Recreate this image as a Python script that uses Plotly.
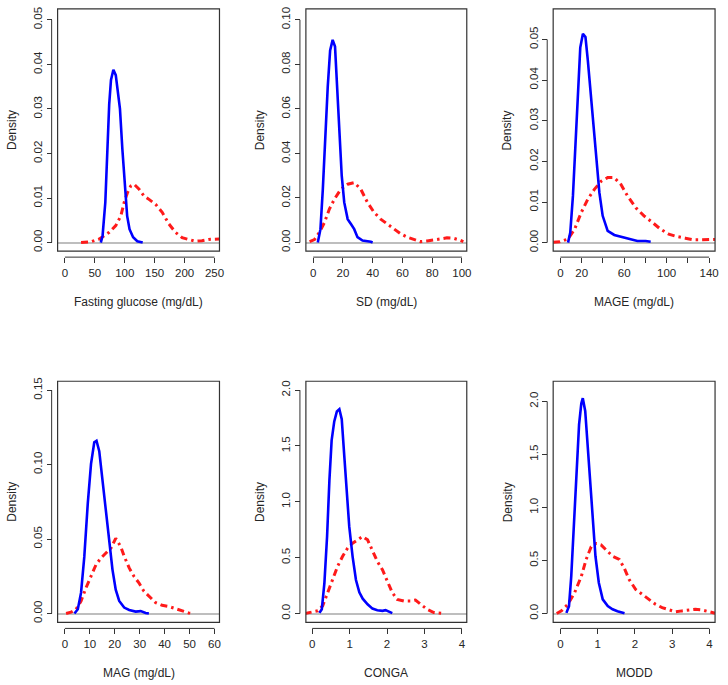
import plotly.graph_objects as go

W, H = 728, 685

# ---------------- data ----------------
# Panel 1: Fasting glucose
fg_blue_x = [60, 63, 67.5, 70, 74, 77, 81, 85, 88, 92, 96, 100.5, 104, 108, 114, 121, 130]
fg_blue_y = [0, 0.0016, 0.009, 0.018, 0.031, 0.0365, 0.0388, 0.0376, 0.034, 0.030, 0.021, 0.012, 0.006, 0.003, 0.0012, 0.0003, 0]
fg_red_x = [27, 44, 57.5, 74, 85, 93.5, 99, 104.5, 110, 115.6, 124, 132, 140.5, 151.5, 162.6, 173.7, 184.7, 195.8, 207, 218, 229, 240, 258]
fg_red_y = [0, 0.0002, 0.0008, 0.0023, 0.0038, 0.006, 0.009, 0.0112, 0.0127, 0.0131, 0.012, 0.0105, 0.0097, 0.0086, 0.0068, 0.0042, 0.0023, 0.0011, 0.0007, 0.0003, 0.0004, 0.0007, 0.0008]

# Panel 2: SD
sd_blue_x = [3.1, 4.9, 6.5, 8, 9.8, 11.4, 13.1, 14.7, 16, 17.6, 19.2, 20.9, 23.2, 25.4, 27.6, 29.8, 33.2, 38.8, 40]
sd_blue_y = [0, 0.006, 0.024, 0.048, 0.07, 0.0863, 0.091, 0.088, 0.07, 0.048, 0.030, 0.018, 0.0105, 0.0083, 0.006, 0.0024, 0.0009, 0.0003, 0]
sd_red_x = [-2.4, 0.9, 4.2, 7.6, 10.9, 14.3, 18.7, 23.2, 27.6, 32, 36.5, 41, 45.4, 49.9, 54.3, 58.8, 63.3, 67.7, 72.2, 76.6, 81, 85.5, 90, 94.4, 98.9, 101]
sd_red_y = [0.0004, 0.0013, 0.0046, 0.009, 0.015, 0.0195, 0.024, 0.0262, 0.0269, 0.024, 0.018, 0.0135, 0.0105, 0.0083, 0.006, 0.0039, 0.0024, 0.0013, 0.0004, 0.0007, 0.0013, 0.0016, 0.0021, 0.0019, 0.001, 0.0004]

# Panel 3: MAGE
mage_blue_x = [7.2, 9.3, 11.8, 14.3, 16.5, 18.7, 21.2, 23.6, 25.8, 28, 30.5, 33.6, 36.7, 39.8, 44.5, 50.7, 58.5, 64.7, 72.5, 80.3, 85]
mage_blue_y = [0, 0.0025, 0.0115, 0.026, 0.0383, 0.048, 0.0514, 0.0506, 0.0449, 0.0384, 0.030, 0.0204, 0.0123, 0.0066, 0.0029, 0.0019, 0.0013, 0.0009, 0.0004, 0.0004, 0.0002]
mage_red_x = [-6.8, -0.6, 7.2, 13.4, 19.6, 25.8, 32, 38.3, 44.5, 50.7, 57, 63.2, 71, 78.7, 86.5, 94.3, 102, 109.8, 117.6, 125.4, 133.2, 141, 145.6]
mage_red_y = [0.0001, 0.0002, 0.0009, 0.0033, 0.0074, 0.0107, 0.0131, 0.0151, 0.016, 0.016, 0.0143, 0.0115, 0.0086, 0.0066, 0.005, 0.0033, 0.0021, 0.0015, 0.0011, 0.0007, 0.0007, 0.0007, 0.0008]

# Panel 4: MAG
mag_blue_x = [3.85, 5.2, 6.5, 7.8, 9.2, 10.5, 11.8, 12.7, 13.8, 15.1, 16.5, 17.8, 19.1, 20.4, 21.8, 23.8, 25.8, 28.4, 30.4, 32.4, 33.7]
mag_blue_y = [0, 0.0029, 0.014, 0.038, 0.074, 0.1005, 0.115, 0.116, 0.109, 0.0894, 0.065, 0.045, 0.0295, 0.016, 0.0084, 0.004, 0.0024, 0.0013, 0.0016, 0.0004, 0]
mag_red_x = [0.5, 2.5, 4.5, 6.5, 8.5, 10.5, 12.5, 14.5, 16.5, 18.5, 20.4, 22.4, 23.8, 25.8, 27.7, 29.7, 31.7, 33.7, 36.4, 39, 41.7, 44.3, 47, 49.6, 51.6]
mag_red_y = [0, 0.0009, 0.0029, 0.0084, 0.0173, 0.025, 0.0328, 0.0373, 0.0406, 0.044, 0.0505, 0.045, 0.0384, 0.0306, 0.025, 0.0206, 0.015, 0.0118, 0.0073, 0.0055, 0.0047, 0.0033, 0.0018, 0.0004, 0]

# Panel 5: CONGA
conga_blue_x = [0.195, 0.257, 0.327, 0.398, 0.46, 0.52, 0.59, 0.66, 0.726, 0.79, 0.86, 0.93, 0.99, 1.08, 1.17, 1.26, 1.35, 1.48, 1.61, 1.74, 1.88, 1.96, 2.05, 2.14]
conga_blue_y = [0.006, 0.038, 0.275, 0.69, 1.19, 1.55, 1.72, 1.81, 1.83, 1.74, 1.40, 1.04, 0.78, 0.51, 0.30, 0.19, 0.133, 0.083, 0.044, 0.03, 0.024, 0.03, 0.015, 0.003]
conga_red_x = [-0.2, -0.03, 0.15, 0.28, 0.416, 0.55, 0.68, 0.81, 0.947, 1.08, 1.21, 1.345, 1.48, 1.61, 1.74, 1.88, 2.01, 2.14, 2.27, 2.45, 2.63, 2.76, 2.9, 3.07, 3.25, 3.51]
conga_red_y = [0, 0.009, 0.024, 0.068, 0.186, 0.305, 0.423, 0.51, 0.586, 0.63, 0.66, 0.69, 0.66, 0.57, 0.467, 0.39, 0.29, 0.186, 0.127, 0.112, 0.112, 0.121, 0.083, 0.038, 0.009, 0]

# Panel 6: MODD
modd_blue_x = [0.16, 0.23, 0.29, 0.355, 0.43, 0.5, 0.56, 0.6, 0.665, 0.736, 0.81, 0.87, 0.94, 1.03, 1.135, 1.27, 1.4, 1.53, 1.67, 1.72]
modd_blue_y = [0.006, 0.07, 0.35, 0.79, 1.35, 1.78, 1.98, 2.03, 1.91, 1.56, 1.19, 0.85, 0.54, 0.29, 0.134, 0.07, 0.04, 0.022, 0.009, 0.003]
modd_red_x = [-0.1, 0.027, 0.2, 0.38, 0.56, 0.69, 0.825, 0.96, 1.09, 1.22, 1.4, 1.58, 1.71, 1.845, 2.02, 2.2, 2.38, 2.55, 2.73, 2.91, 3.09, 3.26, 3.44, 3.62, 3.8, 3.97, 4.15]
modd_red_y = [0, 0.025, 0.087, 0.196, 0.35, 0.51, 0.63, 0.66, 0.647, 0.6, 0.54, 0.51, 0.43, 0.32, 0.227, 0.18, 0.134, 0.087, 0.056, 0.034, 0.016, 0.025, 0.034, 0.04, 0.034, 0.016, 0.003]

# axis titles and ticks
x_titles = ["Fasting glucose (mg/dL)", "SD (mg/dL)", "MAGE (mg/dL)", "MAG (mg/dL)", "CONGA", "MODD"]
y_title = "Density"

fg_xticks = [0, 50, 100, 150, 200, 250]
sd_xticks = [0, 20, 40, 60, 80, 100]
mage_xticks = [0, 20, 40, 60, 80, 100, 120, 140]
mage_xticklabels = ["0", "20", "", "60", "", "100", "", "140"]
mag_xticks = [0, 10, 20, 30, 40, 50, 60]
conga_xticks = [0, 1, 2, 3, 4]
modd_xticks = [0, 1, 2, 3, 4]

fg_yticks = [0, 0.01, 0.02, 0.03, 0.04, 0.05]
sd_yticks = [0, 0.02, 0.04, 0.06, 0.08, 0.10]
mage_yticks = [0, 0.01, 0.02, 0.03, 0.04, 0.05]
mag_yticks = [0, 0.05, 0.10, 0.15]
conga_yticks = [0, 0.5, 1.0, 1.5, 2.0]
modd_yticks = [0, 0.5, 1.0, 1.5, 2.0]

# ---------------- layout geometry (pixels) ----------------
cols = [(58, 221), (308, 470), (557, 720)]
rows = [(5, 249), (380, 623)]

panels = [
    dict(bx=fg_blue_x, by=fg_blue_y, rx=fg_red_x, ry=fg_red_y, xr=[-12.2, 258.3], yr=[-0.00193, 0.05245],
         xt=fg_xticks, xtt=[str(v) for v in fg_xticks], yt=fg_yticks, yfmt="{:.2f}"),
    dict(bx=sd_blue_x, by=sd_blue_y, rx=sd_red_x, ry=sd_red_y, xr=[-4.9, 103.3], yr=[-0.0039, 0.1049],
         xt=sd_xticks, xtt=[str(v) for v in sd_xticks], yt=sd_yticks, yfmt="{:.2f}"),
    dict(bx=mage_blue_x, by=mage_blue_y, rx=mage_red_x, ry=mage_red_y, xr=[-6.8, 145.6], yr=[-0.0021, 0.0575],
         xt=mage_xticks, xtt=mage_xticklabels, yt=mage_yticks, yfmt="{:.2f}"),
    dict(bx=mag_blue_x, by=mag_blue_y, rx=mag_red_x, ry=mag_red_y, xr=[-2.9, 62], yr=[-0.006, 0.156],
         xt=mag_xticks, xtt=[str(v) for v in mag_xticks], yt=mag_yticks, yfmt="{:.2f}"),
    dict(bx=conga_blue_x, by=conga_blue_y, rx=conga_red_x, ry=conga_red_y, xr=[-0.168, 4.13], yr=[-0.08, 2.08],
         xt=conga_xticks, xtt=[str(v) for v in conga_xticks], yt=conga_yticks, yfmt="{:.1f}"),
    dict(bx=modd_blue_x, by=modd_blue_y, rx=modd_red_x, ry=modd_red_y, xr=[-0.195, 4.15], yr=[-0.084, 2.19],
         xt=modd_xticks, xtt=[str(v) for v in modd_xticks], yt=modd_yticks, yfmt="{:.1f}"),
]

FONT = "Arial, 'Liberation Sans', sans-serif"
TXT = "#262626"
AX = "#333333"
TICKSIZE = 11.5
TITLESIZE = 12
OFF = 6  # axis offset from box, px

fig = go.Figure()
layout = dict(
    width=W, height=H, margin=dict(l=0, r=0, t=0, b=0),
    paper_bgcolor="white", plot_bgcolor="white", showlegend=False,
    font=dict(family=FONT, color=TXT, size=TICKSIZE),
)
shapes = []
annotations = []

for i, p in enumerate(panels):
    n = i + 1
    c = cols[i % 3]
    r = rows[i // 3]
    xd = [c[0] / W, c[1] / W]
    yd = [1 - r[1] / H, 1 - r[0] / H]
    xs = "" if n == 1 else str(n)
    xpos = yd[0] - OFF / H
    ypos = xd[0] - OFF / W

    fig.add_trace(go.Scatter(x=p["rx"], y=p["ry"], mode="lines", xaxis="x" + xs, yaxis="y" + xs,
                             line=dict(color="#FF1A1A", width=3, dash="7px,4px,2.5px,4px"),
                             hoverinfo="skip"))
    fig.add_trace(go.Scatter(x=p["bx"], y=p["by"], mode="lines", xaxis="x" + xs, yaxis="y" + xs,
                             line=dict(color="#0000FF", width=2.6), hoverinfo="skip"))

    layout["xaxis" + xs] = dict(
        domain=xd, range=p["xr"], anchor="free", position=xpos,
        tickvals=p["xt"], ticktext=p["xtt"], ticks="outside", ticklen=5, tickwidth=1, tickcolor=AX,
        showline=False, showgrid=False, zeroline=False, fixedrange=True,
        tickfont=dict(size=TICKSIZE, color=TXT, family=FONT),
    )
    layout["yaxis" + xs] = dict(
        domain=yd, range=p["yr"], anchor="free", position=ypos,
        tickvals=p["yt"], ticktext=[p["yfmt"].format(v) for v in p["yt"]], tickangle=-90,
        ticks="outside", ticklen=5, tickwidth=1, tickcolor=AX,
        showline=False, showgrid=False, zeroline=True, zerolinecolor="#BEBEBE", zerolinewidth=1.5,
        fixedrange=True, tickfont=dict(size=TICKSIZE, color=TXT, family=FONT),
    )
    # plot frame
    shapes.append(dict(type="rect", xref="x" + xs + " domain", yref="y" + xs + " domain",
                       x0=0, x1=1, y0=0, y1=1, line=dict(color=AX, width=1.2), layer="above"))
    # detached axis lines (span first to last tick)
    shapes.append(dict(type="line", xref="x" + xs, yref="paper", x0=p["xt"][0], x1=p["xt"][-1],
                       y0=xpos, y1=xpos, line=dict(color=AX, width=1)))
    shapes.append(dict(type="line", xref="paper", yref="y" + xs, x0=ypos, x1=ypos,
                       y0=p["yt"][0], y1=p["yt"][-1], line=dict(color=AX, width=1)))
    # axis titles
    annotations.append(dict(text=x_titles[i], xref="paper", yref="paper",
                            x=(xd[0] + xd[1]) / 2, y=1 - (r[1] + 51) / H, showarrow=False,
                            xanchor="center", yanchor="middle",
                            font=dict(size=TITLESIZE, color=TXT, family=FONT)))
    annotations.append(dict(text=y_title, xref="paper", yref="paper", textangle=-90,
                            x=(c[0] - 46) / W, y=(yd[0] + yd[1]) / 2, showarrow=False,
                            xanchor="center", yanchor="middle",
                            font=dict(size=TITLESIZE, color=TXT, family=FONT)))

layout["shapes"] = shapes
layout["annotations"] = annotations
fig.update_layout(**layout)
fig.write_html("out.html", config={"displayModeBar": False},
               post_script="document.body.style.margin='0px';document.body.style.overflow='hidden';")
